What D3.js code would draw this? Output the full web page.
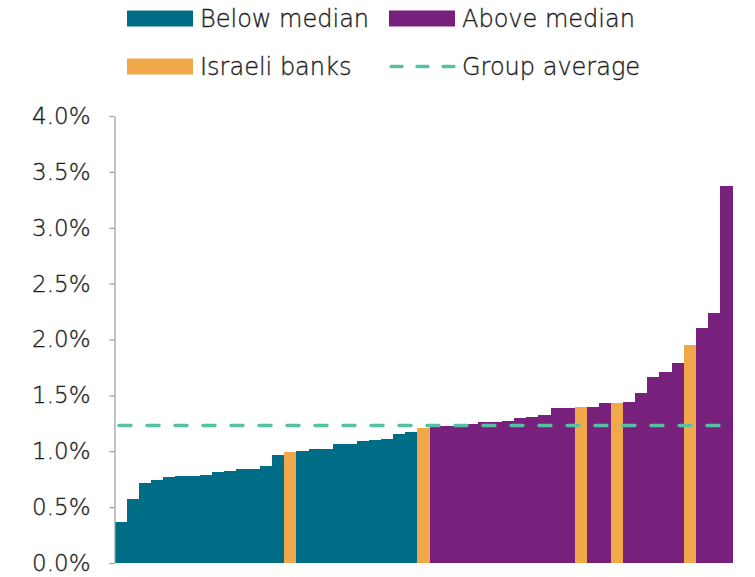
<!DOCTYPE html>
<html>
<head>
<meta charset="utf-8">
<script src="https://cdn.jsdelivr.net/npm/d3@7"></script>
<style>
  html, body { margin: 0; padding: 0; background: #fff; }
  svg { display: block; }
  text { font-family: "DejaVu Sans", "Liberation Sans", sans-serif; font-weight: 300; fill: #1e1e1e; stroke: #1e1e1e; stroke-width: 0.35px; }
</style>
</head>
<body>
<svg id="chart" width="755" height="577"></svg>
<script>
// Ratio per bank, sorted ascending (percent)
const values = [0.37, 0.57, 0.72, 0.74, 0.77, 0.78, 0.78, 0.79, 0.81, 0.82,
                0.84, 0.84, 0.87, 0.97, 0.99, 1.00, 1.02, 1.02, 1.065, 1.065,
                1.09, 1.10, 1.11, 1.155, 1.17, 1.21, 1.225, 1.225, 1.23, 1.245,
                1.26, 1.26, 1.27, 1.30, 1.31, 1.32, 1.385, 1.385, 1.40, 1.40,
                1.43, 1.43, 1.445, 1.52, 1.66, 1.71, 1.79, 1.95, 2.10, 2.235,
                3.37];
// Group of each bank, in the same order
const groups = ["below","below","below","below","below","below","below","below","below","below",
                "below","below","below","below","israeli","below","below","below","below","below",
                "below","below","below","below","below","israeli","above","above","above","above",
                "above","above","above","above","above","above","above","above","israeli","above",
                "above","israeli","above","above","above","above","above","israeli","above","above",
                "above"];
const groupAverage = 1.23;
const yTicks = [0, 0.5, 1.0, 1.5, 2.0, 2.5, 3.0, 3.5, 4.0];
const legendItems = [
  { key: "below",   label: "Below median" },
  { key: "above",   label: "Above median" },
  { key: "israeli", label: "Israeli banks" },
  { key: "average", label: "Group average" }
];

const colors = { below: "#006d87", above: "#77217c", israeli: "#f1a84b", average: "#58c0a2" };

const svg = d3.select("#chart");
const margin = { left: 115, right: 23, top: 116, bottom: 14 };
const W = 755, H = 577;

const x = d3.scaleBand()
  .domain(d3.range(values.length))
  .range([margin.left, W - margin.right])
  .padding(0);

const y = d3.scaleLinear()
  .domain([0, 4])
  .range([H - margin.bottom, margin.top]);

// Bars
svg.append("g")
  .attr("shape-rendering", "crispEdges")
  .selectAll("rect")
  .data(values)
  .join("rect")
  .attr("x", (d, i) => x(i))
  .attr("width", x.bandwidth() + 0.5)
  .attr("y", d => y(d))
  .attr("height", d => y(0) - y(d))
  .attr("fill", (d, i) => colors[groups[i]]);

// Y axis
const yAxis = svg.append("g")
  .attr("transform", `translate(${margin.left - 0.5},0)`)
  .call(d3.axisLeft(y)
    .tickValues(yTicks)
    .tickFormat(d => d3.format(".1f")(d) + "%")
    .tickSize(5)
    .tickSizeOuter(0)
    .tickPadding(19));
yAxis.select(".domain").attr("stroke", "#9a9a9a").attr("stroke-width", 1.2);
yAxis.selectAll(".tick line").attr("stroke", "#9a9a9a").attr("stroke-width", 1.2);
yAxis.selectAll(".tick text")
  .attr("font-size", 23)
  .style("font-family", "\"DejaVu Sans\", \"Liberation Sans\", sans-serif")
  .style("font-weight", 300)
  .attr("fill", "#1e1e1e")
  .attr("stroke", "#1e1e1e")
  .attr("stroke-width", 0.35);

// Group average line
svg.append("line")
  .attr("x1", x(0) + 4)
  .attr("x2", x(values.length - 1) + x.bandwidth())
  .attr("y1", y(groupAverage))
  .attr("y2", y(groupAverage))
  .attr("stroke", colors.average)
  .attr("stroke-width", 3.4)
  .attr("stroke-linecap", "round")
  .attr("stroke-dasharray", "12,16");

// Legend
const legendPos = [
  { x: 127, y: 18.5 }, { x: 389, y: 18.5 },
  { x: 127, y: 66.5 }, { x: 389, y: 66.5 }
];
const lg = svg.append("g").selectAll("g")
  .data(legendItems)
  .join("g")
  .attr("transform", (d, i) => `translate(${legendPos[i].x},${legendPos[i].y})`);

lg.filter(d => d.key !== "average")
  .append("rect")
  .attr("x", 0).attr("y", -8)
  .attr("width", 66).attr("height", 16)
  .attr("fill", d => colors[d.key]);

lg.filter(d => d.key === "average")
  .append("line")
  .attr("x1", 2).attr("x2", 66)
  .attr("y1", 0).attr("y2", 0)
  .attr("stroke", colors.average)
  .attr("stroke-width", 3.4)
  .attr("stroke-linecap", "round")
  .attr("stroke-dasharray", "11,15");

lg.append("text")
  .attr("x", 73)
  .attr("y", 0)
  .attr("dy", "0.35em")
  .attr("font-size", 24)
  .text(d => d.label);
</script>
</body>
</html>
